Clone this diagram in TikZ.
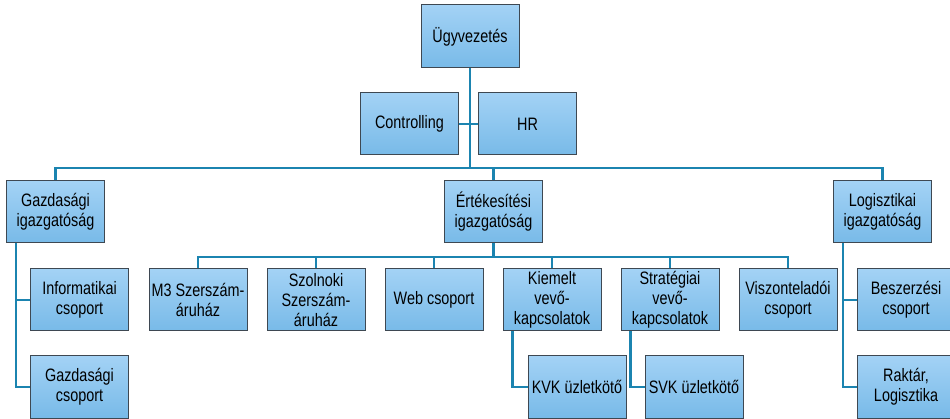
\documentclass[tikz,border=0pt]{standalone}
\usepackage{fontspec}
\setmainfont[FakeStretch=0.8]{Liberation Sans}
\usetikzlibrary{positioning}
\definecolor{boxtop}{HTML}{A3D2F5}
\definecolor{boxbot}{HTML}{78BAE8}
\definecolor{boxline}{HTML}{3E4852}
\definecolor{linkcol}{HTML}{1B84B0}

\begin{document}
\begin{tikzpicture}[x=1pt,y=1pt,node distance=19pt,
      org node/.style={rectangle,draw=boxline,line width=1pt,
          top color=boxtop,bottom color=boxbot,
          font=\fontsize{18}{20}\selectfont,align=center,
          minimum width=98pt,minimum height=62pt,inner sep=2pt},
      link/.style={draw=linkcol,line width=2.5pt}]
    \useasboundingbox (0,0) rectangle (950,-419);

    % top levels
    \node[org node,minimum height=63pt] (ugy) at (470,-36.5) {Ügyvezetés};
    \node[org node] (ctrl) at (409.5,-124) {Controlling};
    \node[org node] (hr) [right=of ctrl] {HR};

    \node[org node] (gig) at (55.5,-212) {Gazdasági\\igazgatóság};
    \node[org node] (eig) at (493.5,-212) {Értékesítési\\igazgatóság};
    \node[org node] (lig) at (882.5,-212) {Logisztikai\\igazgatóság};

    % sales groups
    \node[org node] (m3) at (198,-300) {M3 Szerszám-\\áruház};
    \node[org node] (szol) [right=of m3] {Szolnoki\\Szerszám-\\áruház};
    \node[org node] (web) [right=of szol] {Web csoport};
    \node[org node] (kiem) [right=of web] {Kiemelt\\vevő-\\kapcsolatok};
    \node[org node] (strat) [right=of kiem] {Stratégiai\\vevő-\\kapcsolatok};
    \node[org node] (visz) [right=of strat] {Viszonteladói\\csoport};

    \node[org node] (kvk) at (577,-387) {KVK üzletkötő};
    \node[org node] (svk) [right=18pt of kvk] {SVK üzletkötő};

    % side columns
    \node[org node] (info) at (79.5,-300) {Informatikai\\csoport};
    \node[org node] (gcs) [below=24pt of info] {Gazdasági\\csoport};
    \node[org node] (besz) at (906,-300) {Beszerzési\\csoport};
    \node[org node] (rak) [below=24pt of besz] {Raktár,\\Logisztika};

    \coordinate (hbus) at (470,-168);
    \coordinate (sbus) at (493.5,-257);
    \coordinate (gl) at ([xshift=10pt]gig.south west);
    \coordinate (ll) at ([xshift=10pt]lig.south west);
    \coordinate (kl) at ([xshift=10pt]kiem.south west);
    \coordinate (sl) at ([xshift=10pt]strat.south west);

    \draw[link] (ugy.south) -- (ugy.south |- hbus);
    \draw[link] (ctrl.east) -- (hr.west);
    \draw[link] (gig.north) |- (hbus) -| (lig.north);
    \draw[link] (eig.north) -- (eig.north |- hbus);

    \draw[link] (eig.south) -- (sbus);
    \draw[link] (m3.north) |- (sbus) -| (visz.north);
    \foreach \n in {szol,web,kiem,strat}
      \draw[link] (\n.north) -- (\n.north |- sbus);

    \draw[link] (gl) |- (gcs.west);
    \draw[link] (info.west) -- (info.west -| gl);
    \draw[link] (ll) |- (rak.west);
    \draw[link] (besz.west) -- (besz.west -| ll);
    \draw[link] (kl) |- (kvk.west);
    \draw[link] (sl) |- (svk.west);

  \end{tikzpicture}
\end{document}
